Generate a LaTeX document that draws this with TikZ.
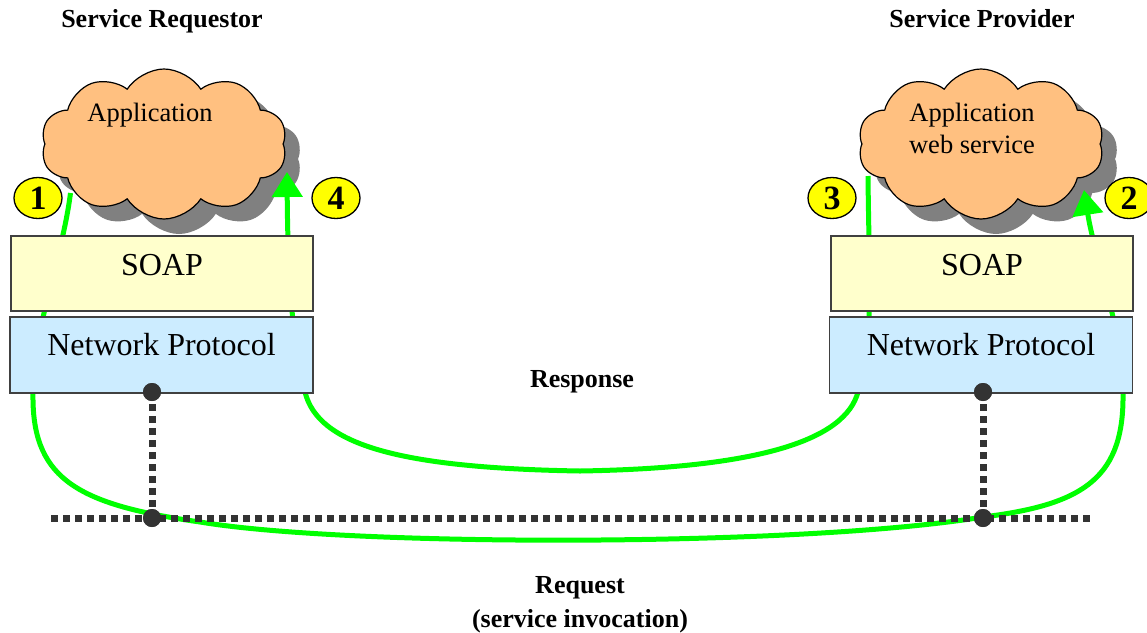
\documentclass[tikz,border=0pt]{standalone}
\usepackage{fontspec}
\setmainfont{Liberation Serif}
\usetikzlibrary{shapes.symbols,shapes.geometric,arrows.meta}
\definecolor{cloudfill}{HTML}{FFC080}
\definecolor{shadowgray}{HTML}{808080}
\definecolor{soapfill}{HTML}{FFFFCC}
\definecolor{netfill}{HTML}{CCECFF}
\definecolor{boxline}{HTML}{404040}
\definecolor{dotgray}{HTML}{333333}
\definecolor{flowgreen}{HTML}{00FF00}
\definecolor{labelyellow}{HTML}{FFFF00}
\begin{document}
\begin{tikzpicture}[x=1pt,y=-1pt,
  cloudsty/.style={cloud, cloud puffs=10, cloud puff arc=115, cloud ignores aspect, draw=black, line width=1.2pt, fill=cloudfill, minimum width=246pt, minimum height=150pt, inner sep=0pt},
  shadowsty/.style={cloudsty, draw=none, fill=shadowgray},
  soapbox/.style={draw=boxline, line width=1.5pt, fill=soapfill, minimum width=302pt, inner xsep=0pt, inner ysep=0pt, text height=40pt, text depth=35pt, anchor=north, font=\fontsize{32}{36}\selectfont},
  netbox/.style={draw=boxline, line width=1.5pt, fill=netfill, minimum width=303pt, inner xsep=0pt, inner ysep=0pt, text height=39pt, text depth=37pt, anchor=north, font=\fontsize{32}{36}\selectfont},
  title/.style={font=\fontsize{26}{30}\selectfont\bfseries, anchor=base},
  cloudtext/.style={font=\fontsize{26.5}{32}\selectfont, align=center},
  numlabel/.style={ellipse, draw=black, line width=1.3pt, fill=labelyellow, minimum width=48pt, minimum height=41pt, inner sep=0pt, font=\fontsize{34}{34}\selectfont\bfseries},
  flow/.style={draw=flowgreen, line width=5pt},
  flowarrow/.style={flow, -{Triangle[width=30pt,length=25pt]}},
  dotline/.style={draw=dotgray, line width=7pt, dash pattern=on 7pt off 5pt},
  joint/.style={circle, fill=dotgray, minimum size=18pt, inner sep=0pt}
]
\useasboundingbox (0,0) rectangle (1147,632);

% titles
\node[title] (reqtitle) at (162,27) {Service Requestor};
\node[title] (provtitle) at (982,27) {Service Provider};
\node[title] (resplabel) at (582,387) {Response};
\node[title] (reqlabel) at (580,593) {Request};
\node[title] (reqsub) at (580,627) {(service invocation)};

% clouds with shadows
\node[shadowsty] (lshadow) at (179,159) {};
\node[cloudsty] (lcloud) at (164,144) {};
\node[cloudtext, anchor=base] (ltext) at (150,121) {Application};
\node[shadowsty] (rshadow) at (996,159) {};
\node[cloudsty] (rcloud) at (981,144) {};
\node[cloudtext] (rtext) at (972,128) {Application\\web service};

% flow coordinates
\coordinate (reqstart) at (70.5,193);
\coordinate (reqend) at (1084,190);
\coordinate (respstart) at (868,176);
\coordinate (respend) at (287,172);

% request flow
\draw[flowarrow] (reqstart) .. controls (62,260) and (32,330) .. (33,400)
  .. controls (34,480) and (80,505) .. (200,522)
  .. controls (350,547) and (800,547) .. (983,517)
  .. controls (1080,505) and (1122,480) .. (1123,400)
  .. controls (1124,330) and (1095,260) .. (reqend);
% response flow
\draw[flowarrow] (respstart) .. controls (869,280) and (874,340) .. (858,392)
  .. controls (845,440) and (760,468) .. (580,471)
  .. controls (400,468) and (318,445) .. (305,392)
  .. controls (293,340) and (288,290) .. (respend);

% protocol stacks
\node[soapbox] (lsoap) at (162,235) {SOAP};
\node[netbox] (lnet) at (161.5,316) {Network Protocol};
\node[soapbox] (rsoap) at (982,235) {SOAP};
\node[netbox] (rnet) at (981,316) {Network Protocol};

% network bus
\coordinate (busL) at (51,518);
\coordinate (busR) at (1090,518);
\draw[dotline] (busL) -- (busR);
\node[joint] (ltop) at (152,392) {};
\node[joint] (lbot) at (152,518) {};
\node[joint] (rtop) at (983,392) {};
\node[joint] (rbot) at (983,518) {};
\draw[dotline] (ltop.center) -- (lbot.center);
\draw[dotline] (rtop.center) -- (rbot.center);
\node[joint] at (ltop) {};
\node[joint] at (lbot) {};
\node[joint] at (rtop) {};
\node[joint] at (rbot) {};

% step numbers
\node[numlabel] (n1) at (38,198) {1};
\node[numlabel] (n4) at (336,198) {4};
\node[numlabel] (n3) at (832,198) {3};
\node[numlabel] (n2) at (1129,198) {2};
\end{tikzpicture}
\end{document}
